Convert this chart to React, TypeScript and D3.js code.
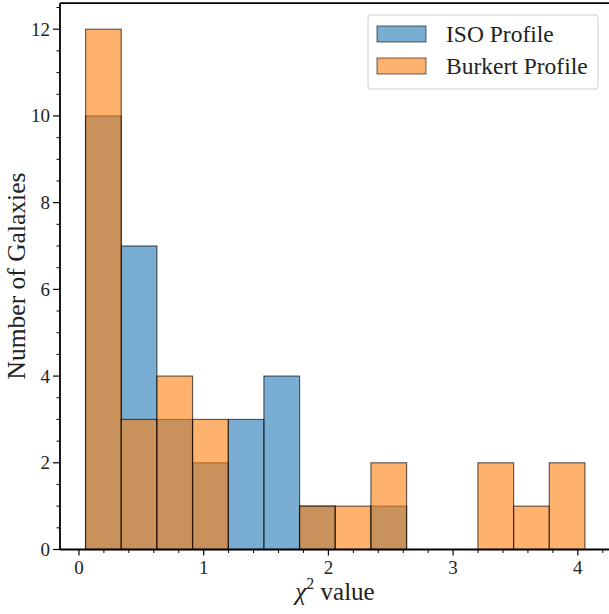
import React from "react";
import * as d3 from "d3";

const binEdges = [0.053, 0.339, 0.625, 0.911, 1.197, 1.483, 1.769, 2.055, 2.341, 2.627, 2.913, 3.199, 3.485, 3.771, 4.057];
const isoCounts = [10, 7, 3, 2, 3, 4, 1, 0, 1, 0, 0, 0, 0, 0];
const burkertCounts = [12, 3, 4, 3, 0, 0, 1, 1, 2, 0, 0, 2, 1, 2];
const xMajorTicks = [0, 1, 2, 3, 4];
const yMajorTicks = [0, 2, 4, 6, 8, 10, 12];
const seriesNames = ["ISO Profile", "Burkert Profile"];

const W = 609;
const H = 614;
const FONT = "'Liberation Serif', 'DejaVu Serif', serif";

export default function App() {
  const x = d3.scaleLinear().domain([-0.152, 4.258]).range([60, 610]);
  const y = d3.scaleLinear().domain([0, 12.6]).range([549.5, 3.2]);
  const xMinor = d3.range(-0.2, 4.3, 0.2).filter((v) => x(v) >= 60 && x(v) <= 609 && Math.abs(v - Math.round(v)) > 1e-6);
  const yMinor = d3.range(0, 12.6, 0.5).filter((v) => Math.abs(v / 2 - Math.round(v / 2)) > 1e-6);

  const series = [
    { counts: isoCounts, fill: "#1f77b4" },
    { counts: burkertCounts, fill: "#ff7f0e" },
  ];

  return (
    <svg width={W} height={H} style={{ position: "absolute", left: 0, top: 0, background: "#fff" }} fontFamily={FONT}>
      <rect x={0} y={0} width={W} height={H} fill="#fff" />
      {series.map((s, si) => (
        <g key={si}>
          {s.counts.map((c, i) =>
            c > 0 ? (
              <rect
                key={i}
                x={x(binEdges[i])}
                y={y(c)}
                width={x(binEdges[i + 1]) - x(binEdges[i])}
                height={y(0) - y(c)}
                fill={s.fill}
                fillOpacity={0.6}
                stroke="#000"
                strokeOpacity={0.6}
                strokeWidth={1.2}
              />
            ) : null
          )}
        </g>
      ))}
      {/* spines */}
      <line x1={60} x2={610} y1={y(0)} y2={y(0)} stroke="#000" strokeWidth={1.8} />
      <line x1={60} x2={60} y1={3.2} y2={y(0)} stroke="#000" strokeWidth={1.8} />
      <line x1={60} x2={610} y1={3.2} y2={3.2} stroke="#000" strokeWidth={1.8} />
      <line x1={610} x2={610} y1={3.2} y2={y(0)} stroke="#000" strokeWidth={1.8} />
      {/* x ticks */}
      {xMajorTicks.map((t) => (
        <g key={"xt" + t}>
          <line x1={x(t)} x2={x(t)} y1={y(0)} y2={y(0) + 6} stroke="#000" strokeWidth={1.2} />
          <text x={x(t)} y={y(0) + 24} textAnchor="middle" fontSize={19} fill="#222">
            {t}
          </text>
        </g>
      ))}
      {xMinor.map((t, i) => (
        <line key={"xm" + i} x1={x(t)} x2={x(t)} y1={y(0)} y2={y(0) + 3.5} stroke="#000" strokeWidth={1} />
      ))}
      {/* y ticks */}
      {yMajorTicks.map((t) => (
        <g key={"yt" + t}>
          <line x1={60} x2={53} y1={y(t)} y2={y(t)} stroke="#000" strokeWidth={1.2} />
          <text x={50} y={y(t) + 6.5} textAnchor="end" fontSize={19} fill="#222">
            {t}
          </text>
        </g>
      ))}
      {yMinor.map((t, i) => (
        <line key={"ym" + i} x1={60} x2={56.5} y1={y(t)} y2={y(t)} stroke="#000" strokeWidth={1} />
      ))}
      {/* axis labels */}
      <text x={335} y={600} textAnchor="middle" fontSize={25} fill="#222">
        <tspan fontStyle="italic">χ</tspan>
        <tspan fontSize={16} dy={-11}>2</tspan>
        <tspan dy={11}> value</tspan>
      </text>
      <text transform={`translate(25,${276}) rotate(-90)`} textAnchor="middle" fontSize={25.5} fill="#222">
        Number of Galaxies
      </text>
      {/* legend */}
      <rect x={368} y={15} width={230} height={74} rx={3} fill="#fff" fillOpacity={0.8} stroke="#ccc" strokeWidth={1} />
      {seriesNames.map((name, i) => (
        <g key={name}>
          <rect
            x={377}
            y={26 + i * 32}
            width={49}
            height={16}
            fill={series[i].fill}
            fillOpacity={0.6}
            stroke="#000"
            strokeOpacity={0.6}
            strokeWidth={1}
          />
          <text x={446} y={42 + i * 32} fontSize={23.5} fill="#222">
            {name}
          </text>
        </g>
      ))}
    </svg>
  );
}
